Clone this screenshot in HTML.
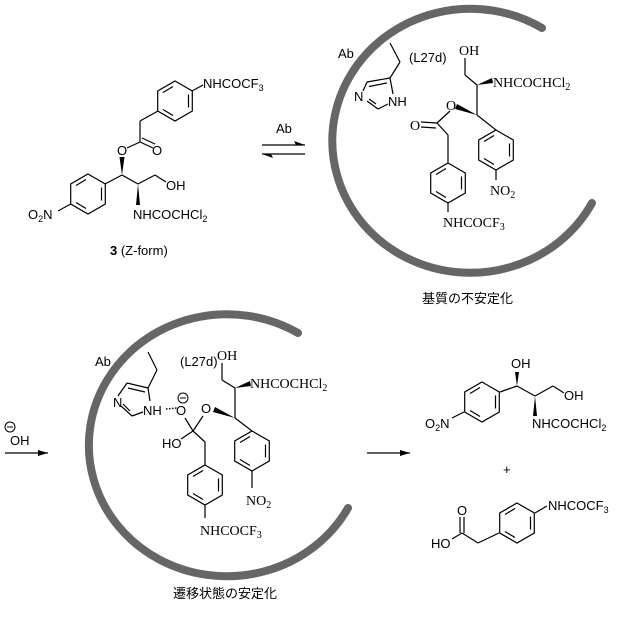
<!DOCTYPE html>
<html><head><meta charset="utf-8"><style>
html,body{margin:0;padding:0;background:#fff}
svg{display:block}
.s{font-family:"Liberation Sans",sans-serif;font-size:13px}
.t{font-family:"Liberation Serif",serif;font-size:14px}
.j{font-family:"Liberation Sans","Noto Sans CJK JP",sans-serif;font-size:13px}
</style></head><body>
<svg width="621" height="617" viewBox="0 0 621 617" xmlns="http://www.w3.org/2000/svg">
<defs>
<g id="bz" fill="none" stroke="#000" stroke-width="1.2">
<polygon points="0,-20 17.3,-10 17.3,10 0,20 -17.3,10 -17.3,-10"/>
<line x1="13.5" y1="-6.5" x2="13.5" y2="6.5"/>
<line x1="-12" y1="8.5" x2="-2" y2="14.5"/>
<line x1="-12" y1="-8.5" x2="-2" y2="-14.5"/>
</g>
</defs>
<g fill="none" stroke="#666" stroke-width="8" stroke-linecap="round">
<path d="M 542 28 A 138 132 0 1 0 592 203"/>
<path d="M 298 333 A 138 131 0 1 0 348 508"/>
</g>
<g stroke="#000" stroke-width="1.2" fill="none">
<line x1="192" y1="91" x2="203" y2="85"/>
<line x1="158" y1="111" x2="140" y2="121"/>
<line x1="140" y1="121" x2="140" y2="142"/>
<line x1="140" y1="142" x2="127" y2="148"/>
<line x1="140" y1="142" x2="153" y2="148"/>
<line x1="142" y1="138" x2="155" y2="144"/>
<line x1="122" y1="175" x2="105" y2="184"/>
<line x1="122" y1="175" x2="138" y2="184"/>
<line x1="138" y1="184" x2="155" y2="175"/>
<line x1="155" y1="175" x2="166" y2="182"/>
<line x1="70.7" y1="204" x2="58" y2="211"/>
<line x1="262" y1="145" x2="305" y2="145"/>
<line x1="262" y1="154" x2="305" y2="154"/>
<line x1="390" y1="43" x2="400" y2="62"/>
<line x1="400" y1="62" x2="390" y2="78"/>
<line x1="367" y1="82" x2="390" y2="78"/>
<line x1="369" y1="86.5" x2="387" y2="83"/>
<line x1="390" y1="78" x2="393" y2="94"/>
<line x1="388" y1="104" x2="378" y2="109"/>
<line x1="378" y1="109" x2="367" y2="101"/>
<line x1="376" y1="104" x2="369" y2="99"/>
<line x1="363" y1="91" x2="367" y2="82"/>
<line x1="465" y1="58" x2="465" y2="75"/>
<line x1="465" y1="75" x2="477" y2="85"/>
<line x1="477" y1="85" x2="477" y2="115"/>
<line x1="450" y1="111" x2="437" y2="123"/>
<line x1="421" y1="122" x2="437" y2="123"/>
<line x1="421" y1="127" x2="436" y2="128"/>
<line x1="437" y1="123" x2="448" y2="135"/>
<line x1="448" y1="135" x2="448" y2="163"/>
<line x1="448" y1="203" x2="448" y2="212"/>
<line x1="477" y1="115" x2="496" y2="130"/>
<line x1="496" y1="170" x2="496" y2="180"/>
<line x1="148" y1="352" x2="157" y2="370"/>
<line x1="157" y1="370" x2="148" y2="388"/>
<line x1="127" y1="383" x2="148" y2="388"/>
<line x1="128" y1="388" x2="145" y2="392"/>
<line x1="148" y1="388" x2="150" y2="401"/>
<line x1="143" y1="412" x2="132" y2="416"/>
<line x1="132" y1="416" x2="121" y2="406"/>
<line x1="130" y1="411" x2="123" y2="404"/>
<line x1="118" y1="396" x2="127" y2="383"/>
<line x1="166" y1="409" x2="177" y2="408" stroke-dasharray="1.5,1.5" stroke-width="1.5"/>
<line x1="222" y1="363" x2="222" y2="380"/>
<line x1="222" y1="380" x2="235" y2="388"/>
<line x1="235" y1="388" x2="235" y2="418"/>
<line x1="193" y1="431" x2="185" y2="418"/>
<line x1="193" y1="431" x2="203" y2="416"/>
<line x1="193" y1="431" x2="181" y2="439"/>
<line x1="193" y1="431" x2="205" y2="442"/>
<line x1="205" y1="442" x2="205" y2="465"/>
<line x1="205" y1="505" x2="205" y2="518"/>
<line x1="235" y1="418" x2="252" y2="431"/>
<line x1="252" y1="471" x2="252" y2="488"/>
<line x1="5" y1="453" x2="48" y2="453"/>
<line x1="367" y1="453" x2="410" y2="453"/>
<line x1="500" y1="392" x2="517" y2="386"/>
<line x1="517" y1="386" x2="535" y2="396"/>
<line x1="535" y1="396" x2="553" y2="386"/>
<line x1="553" y1="386" x2="564" y2="393"/>
<line x1="464" y1="412" x2="452" y2="418"/>
<line x1="535" y1="513" x2="547" y2="506"/>
<line x1="499" y1="533" x2="478" y2="543"/>
<line x1="478" y1="543" x2="462" y2="533"/>
<line x1="462" y1="533" x2="452" y2="539"/>
<line x1="460" y1="533" x2="460" y2="517"/>
<line x1="464" y1="533" x2="464" y2="517"/>
</g>
<use href="#bz" x="175" y="101"/>
<use href="#bz" x="88" y="194"/>
<use href="#bz" x="448" y="183"/>
<use href="#bz" x="496" y="150"/>
<use href="#bz" x="205" y="485"/>
<use href="#bz" x="252" y="451"/>
<use href="#bz" x="482" y="402"/>
<use href="#bz" x="517" y="523"/>
<g fill="#000">
<polygon points="122,175 119.5,157 124.5,157"/>
<polygon points="138,184 136,205 140,205"/>
<polygon points="477,85 492,78 493,83"/>
<polygon points="477,115 457,104 455,109"/>
<polygon points="235,388 250,381 251,386"/>
<polygon points="235,418 215,407 213,412"/>
<polygon points="517,386 515,372 519,372"/>
<polygon points="535,396 533,416 537,416"/>
<polygon points="305,145 294,141 296,145"/>
<polygon points="262,154 273,158 271,154"/>
<polygon points="48,453 38,450 38,456"/>
<polygon points="410,453 400,450 400,456"/>
</g>
<g fill="none" stroke="#000" stroke-width="1">
<circle cx="183" cy="398" r="5"/><line x1="180" y1="398" x2="186" y2="398"/>
<circle cx="10" cy="427" r="5"/><line x1="7" y1="427" x2="13" y2="427"/>
</g>
<g class="s">
<text x="203" y="88">NHCOCF<tspan font-size="9" dy="3">3</tspan></text>
<text x="117" y="155">O</text>
<text x="152" y="155">O</text>
<text x="166" y="190">OH</text>
<text x="28" y="219">O<tspan font-size="9" dy="3">2</tspan><tspan dy="-3">N</tspan></text>
<text x="133" y="219">NHCOCHCl<tspan font-size="9" dy="3">2</tspan></text>
<text x="110" y="255"><tspan font-weight="bold">3</tspan> (Z-form)</text>
<text x="276" y="133">Ab</text>
<text x="338" y="58">Ab</text>
<text x="409" y="62">(L27d)</text>
<text x="354" y="101">N</text>
<text x="388" y="106">NH</text>
<text x="95" y="366">Ab</text>
<text x="180" y="366">(L27d)</text>
<text x="113" y="407">N</text>
<text x="143" y="415">NH</text>
<text x="176" y="415">O</text>
<text x="201" y="413">O</text>
<text x="162" y="448">HO</text>
<text x="10" y="445">OH</text>
<text x="511" y="368">OH</text>
<text x="564" y="400">OH</text>
<text x="425" y="428">O<tspan font-size="9" dy="3">2</tspan><tspan dy="-3">N</tspan></text>
<text x="532" y="428">NHCOCHCl<tspan font-size="9" dy="3">2</tspan></text>
<text x="503" y="474">+</text>
<text x="548" y="510">NHCOCF<tspan font-size="9" dy="3">3</tspan></text>
<text x="457" y="515">O</text>
<text x="431" y="548">HO</text>
</g>
<g class="t">
<text x="459" y="55">OH</text>
<text x="493" y="87">NHCOCHCl<tspan font-size="10" dy="3">2</tspan></text>
<text x="446" y="110">O</text>
<text x="410" y="130">O</text>
<text x="443" y="227">NHCOCF<tspan font-size="10" dy="3">3</tspan></text>
<text x="490" y="195">NO<tspan font-size="10" dy="3">2</tspan></text>
<text x="217" y="360">OH</text>
<text x="250" y="388">NHCOCHCl<tspan font-size="10" dy="3">2</tspan></text>
<text x="200" y="535">NHCOCF<tspan font-size="10" dy="3">3</tspan></text>
<text x="246" y="505">NO<tspan font-size="10" dy="3">2</tspan></text>
</g>
<g class="j">
<text x="422" y="303">基質の不安定化</text>
<text x="173" y="598">遷移状態の安定化</text>
</g>
</svg>
</body></html>
